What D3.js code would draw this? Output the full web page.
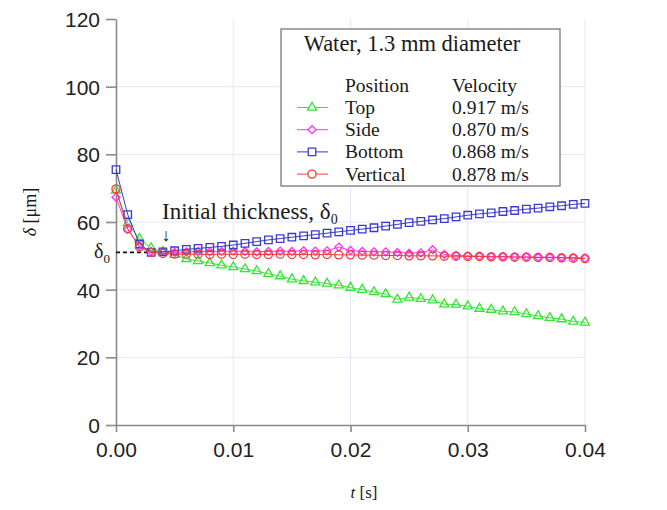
<!DOCTYPE html>
<html lang="en">
<head>
<meta charset="UTF-8">
<title>Film thickness vs time</title>
<script src="https://cdn.jsdelivr.net/npm/d3@7"></script>
<style>
    body{margin:0;background:#fff}
    .tick text{font-family:"Liberation Sans",Arial,sans-serif;font-size:21px;fill:#222}
    .serif{font-family:"Liberation Serif","Times New Roman",serif;fill:#1a1a1a}
</style>
</head>
<body>
<div class="container"></div>
<script>
    ////////////////////////////////////////////////////////////////
    /*                    Data                */
    ////////////////////////////////////////////////////////////////
    const times = [0.000,0.001,0.002,0.003,0.004,0.005,0.006,0.007,0.008,0.009,
        0.010,0.011,0.012,0.013,0.014,0.015,0.016,0.017,0.018,0.019,
        0.020,0.021,0.022,0.023,0.024,0.025,0.026,0.027,0.028,0.029,
        0.030,0.031,0.032,0.033,0.034,0.035,0.036,0.037,0.038,0.039,0.040]
    const topVals = [69.3,59.7,55.0,52.3,51.2,50.3,49.1,48.5,47.9,47.2,
        46.7,46.1,45.5,44.7,44.0,43.1,42.6,42.2,41.8,41.3,
        40.6,40.0,39.3,38.7,37.1,37.7,37.3,36.9,35.7,35.6,
        35.1,34.4,34.1,33.6,33.4,32.8,32.2,31.7,31.3,30.6,30.3]
    const sideVals = [67.3,57.8,52.8,51.3,51.2,51.0,51.2,51.3,51.2,51.3,
        51.4,51.3,51.2,51.3,51.4,51.3,51.5,51.4,51.5,52.6,
        51.6,51.3,51.2,51.2,51.0,50.8,50.9,51.8,50.4,50.1,
        50.0,49.9,49.8,49.8,49.7,49.7,49.6,49.6,49.5,49.5,49.3]
    const bottomVals = [75.5,62.2,53.5,51.0,51.2,51.5,51.9,52.2,52.5,52.8,
        53.2,53.7,54.2,54.7,55.1,55.5,55.9,56.3,56.7,57.1,
        57.5,57.9,58.3,58.8,59.3,59.8,60.2,60.6,61.0,61.5,
        62.0,62.4,62.7,63.1,63.4,63.8,64.1,64.5,64.8,65.2,65.5]
    const verticalVals = [69.8,58.0,52.6,51.0,50.7,50.5,50.5,50.5,50.4,50.5,
        50.4,50.5,50.4,50.4,50.5,50.4,50.4,50.3,50.4,50.3,
        50.3,50.2,50.2,50.1,50.1,50.0,50.0,50.0,49.9,49.9,
        49.8,49.8,49.7,49.7,49.6,49.6,49.5,49.5,49.4,49.3,49.2]

    const positions = ["Top","Side","Bottom","Vertical"]
    const velocities = ["0.917 m/s","0.870 m/s","0.868 m/s","0.878 m/s"]
    const colors = ["#33e633","#ff33ff","#3a3ad0","#f23c3c"]
    const symbols = [d3.symbolTriangle,d3.symbolDiamond2,d3.symbolSquare,d3.symbolCircle]
    const seriesVals = [topVals,sideVals,bottomVals,verticalVals]

    const xTicks = [0,0.01,0.02,0.03,0.04]
    const yTicks = [0,20,40,60,80,100,120]
    const delta0 = 51
    const delta0End = 0.005

    ////////////////////////////////////////////////////////////////
    /*                     Containers and scales                  */
    ////////////////////////////////////////////////////////////////
    const W = 667, H = 510
    const svg = d3.select(".container").append("svg")
        .attr("width",W).attr("height",H)
    const x = d3.scaleLinear().domain([0,0.04]).range([116,585])
    const y = d3.scaleLinear().domain([0,120]).range([425,19])

    // faint grid
    const grid = svg.append("g").attr("stroke","#e6e6f8").attr("stroke-width",1)
    grid.selectAll(".hg").data(yTicks.filter(d=>d>0 && d<120)).join("line")
        .attr("x1",x(0)).attr("x2",x(0.04))
        .attr("y1",d=>y(d)).attr("y2",d=>y(d))
    grid.selectAll(".vg").data(xTicks.filter(d=>d>0)).join("line")
        .attr("x1",d=>x(d)).attr("x2",d=>x(d))
        .attr("y1",y(120)).attr("y2",y(0))

    // axes
    const xAxis = svg.append("g").attr("transform",`translate(0,${y(0)})`)
        .call(d3.axisBottom(x).tickValues(xTicks).tickFormat(d3.format(".2f")).tickSizeInner(7).tickSizeOuter(0).tickPadding(10))
    const yAxis = svg.append("g").attr("transform",`translate(${x(0)},0)`)
        .call(d3.axisLeft(y).tickValues(yTicks).tickSizeInner(10).tickSizeOuter(0).tickPadding(6))
    svg.selectAll(".domain, .tick line").attr("stroke","#8a8a8a").attr("stroke-width",1.6)
    yAxis.selectAll(".tick text").attr("dy","0.36em")

    // axis titles
    svg.append("text").attr("class","serif")
        .attr("transform",`translate(36,212)rotate(-90)`)
        .attr("text-anchor","middle").attr("font-size",18)
        .html('<tspan font-style="italic">δ</tspan> [μm]')
    svg.append("text").attr("class","serif")
        .attr("x",364).attr("y",498)
        .attr("text-anchor","middle").attr("font-size",17)
        .html('<tspan font-style="italic">t</tspan> [s]')

    // delta0 reference line and annotation
    svg.append("line")
        .attr("x1",x(0)).attr("x2",x(delta0End))
        .attr("y1",y(delta0)).attr("y2",y(delta0))
        .attr("stroke","#111").attr("stroke-width",1.8).attr("stroke-dasharray","4,3")
    svg.append("text").attr("class","serif")
        .attr("x",94).attr("y",y(delta0)+6).attr("font-size",20)
        .html('δ<tspan font-size="13" dy="5">0</tspan>')
    svg.append("text").attr("class","serif")
        .attr("x",162).attr("y",219).attr("font-size",23)
        .html('Initial thickness, δ<tspan font-size="14" dy="5">0</tspan>')
    svg.append("text").attr("class","serif")
        .attr("x",166).attr("y",241).attr("text-anchor","middle").attr("font-size",18)
        .text("↓")

    ////////////////////////////////////////////////////////////////
    /*                        Series                              */
    ////////////////////////////////////////////////////////////////
    const line = d3.line().x((d,i)=>x(times[i])).y(d=>y(d))
    const symSize = [36,40,56,52]
    seriesVals.forEach((vals,k)=>{
        const g = svg.append("g")
        g.append("path").datum(vals).attr("d",line)
            .attr("fill","none").attr("stroke",colors[k]).attr("stroke-width",1)
        g.selectAll("path.m").data(vals).join("path").attr("class","m")
            .attr("transform",(d,i)=>`translate(${x(times[i])},${y(d)})`)
            .attr("d",d3.symbol().type(symbols[k]).size(symSize[k]))
            .attr("fill","none").attr("stroke",colors[k]).attr("stroke-width",1.3)
    })

    ////////////////////////////////////////////////////////////////
    /*                        Legend                              */
    ////////////////////////////////////////////////////////////////
    const lg = svg.append("g")
    const legendFont = 19.5
    lg.append("rect").attr("x",281).attr("y",29).attr("width",279).attr("height",157)
        .attr("fill","#fff").attr("stroke","#777").attr("stroke-width",1.3)
    lg.append("text").attr("class","serif").attr("x",412).attr("y",51)
        .attr("text-anchor","middle").attr("font-size",22.5).text("Water, 1.3 mm diameter")
    lg.append("text").attr("class","serif").attr("x",345).attr("y",92).attr("font-size",legendFont).text("Position")
    lg.append("text").attr("class","serif").attr("x",452).attr("y",92).attr("font-size",legendFont).text("Velocity")
    const rows = lg.selectAll(".row").data(positions).join("g")
        .attr("transform",(d,i)=>`translate(0,${107.5+i*22.2})`)
    rows.append("line").attr("x1",297).attr("x2",328)
        .attr("stroke",(d,i)=>colors[i]).attr("stroke-width",1)
    rows.append("path").attr("transform","translate(312,0)")
        .attr("d",(d,i)=>d3.symbol().type(symbols[i]).size(symSize[i])())
        .attr("fill","#fff").attr("stroke",(d,i)=>colors[i]).attr("stroke-width",1.3)
    rows.append("text").attr("class","serif").attr("x",345).attr("y",6.5).attr("font-size",legendFont).text(d=>d)
    rows.append("text").attr("class","serif").attr("x",452).attr("y",6.5).attr("font-size",legendFont).text((d,i)=>velocities[i])
</script>
</body>
</html>
